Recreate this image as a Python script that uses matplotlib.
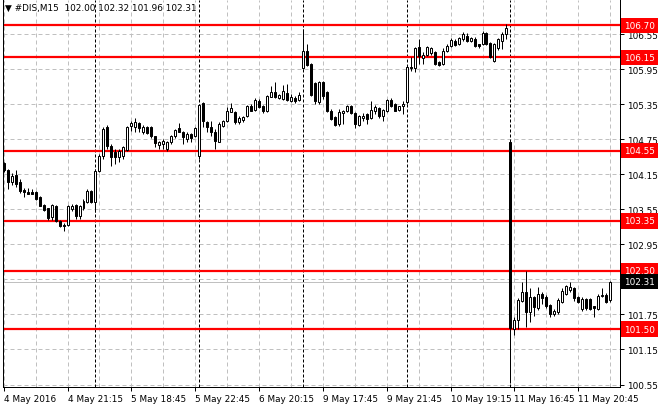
import matplotlib
matplotlib.use("Agg")
import matplotlib.pyplot as plt
import matplotlib.transforms as mtransforms
from datetime import datetime, timedelta

symbol = "#DIS,M15"
days = ["2016-05-04", "2016-05-05", "2016-05-06", "2016-05-09", "2016-05-10", "2016-05-11"]
session = ("16:30", "22:45")   # M15 bars of the trading day (server time)
first_bar = "2016-05-04 17:15"  # first bar visible on the chart

opens = [104.34, 104.22, 104.02, 104.14, 104.02, 103.88, 103.85, 103.84, 103.85, 103.76,
         103.62, 103.57, 103.42, 103.61, 103.35, 103.28, 103.28, 103.56, 103.62, 103.44,
         103.57, 103.67, 103.86, 103.67, 104.20, 104.46, 104.96, 104.63, 104.53, 104.45,
         104.46, 104.57, 104.98, 104.96, 105.03, 104.87, 104.96, 104.96, 104.80, 104.65,
         104.67, 104.58, 104.70, 104.80, 104.94, 104.87, 104.75, 104.84, 104.80, 104.46,
         105.37, 105.04, 104.96, 104.87, 104.70, 104.98, 105.06, 105.22, 105.22, 105.04,
         105.08, 105.15, 105.32, 105.25, 105.40, 105.32, 105.23, 105.47, 105.56, 105.45,
         105.44, 105.54, 105.40, 105.45, 105.42, 105.97, 106.26, 106.04, 105.71, 105.39,
         105.73, 105.56, 105.23, 105.13, 105.01, 105.20, 105.23, 105.32, 105.20, 104.99,
         105.12, 105.18, 105.11, 105.23, 105.28, 105.15, 105.23, 105.42, 105.35, 105.25,
         105.32, 105.39, 105.99, 105.97, 106.33, 106.14, 106.19, 106.23, 106.24, 106.07,
         106.04, 106.26, 106.35, 106.43, 106.38, 106.47, 106.52, 106.43, 106.47, 106.38,
         106.38, 106.57, 106.40, 106.09, 106.31, 106.43, 106.55, 104.70, 101.50, 101.65,
         101.98, 102.13, 101.79, 102.05, 101.86, 102.10, 102.05, 101.91, 101.76, 101.79,
         101.96, 102.10, 102.17, 102.20, 102.05, 101.84, 102.01, 102.01, 101.89, 101.84,
         102.06, 102.08, 102.00]
highs = [104.36, 104.24, 104.17, 104.22, 104.07, 103.91, 103.91, 103.90, 103.86, 103.78,
         103.64, 103.58, 103.64, 103.62, 103.37, 103.31, 103.62, 103.64, 103.64, 103.62,
         103.73, 103.90, 103.88, 104.24, 104.50, 104.96, 104.99, 104.67, 104.58, 104.58,
         104.63, 104.97, 105.06, 105.11, 105.04, 104.99, 104.98, 104.98, 104.80, 104.72,
         104.75, 104.72, 104.82, 104.92, 105.03, 104.89, 104.87, 104.86, 104.96, 105.35,
         105.39, 105.06, 105.06, 104.92, 105.04, 105.08, 105.30, 105.37, 105.23, 105.15,
         105.15, 105.33, 105.35, 105.46, 105.44, 105.33, 105.51, 105.66, 105.73, 105.52,
         105.68, 105.70, 105.52, 105.49, 105.56, 106.64, 106.38, 106.06, 105.73, 105.75,
         105.75, 105.58, 105.27, 105.15, 105.27, 105.25, 105.34, 105.34, 105.22, 105.17,
         105.20, 105.20, 105.40, 105.34, 105.30, 105.27, 105.44, 105.46, 105.37, 105.32,
         105.40, 106.00, 106.16, 106.33, 106.47, 106.24, 106.35, 106.33, 106.26, 106.09,
         106.31, 106.38, 106.48, 106.47, 106.50, 106.59, 106.57, 106.50, 106.50, 106.38,
         106.60, 106.59, 106.41, 106.40, 106.48, 106.59, 106.72, 104.72, 101.71, 102.03,
         102.30, 102.49, 102.20, 102.07, 102.22, 102.13, 102.08, 101.93, 101.84, 102.03,
         102.20, 102.25, 102.30, 102.22, 102.07, 102.05, 102.03, 102.03, 101.90, 102.10,
         102.20, 102.12, 102.32]
lows = [104.19, 103.90, 103.97, 103.93, 103.83, 103.76, 103.81, 103.81, 103.71, 103.60,
        103.52, 103.37, 103.37, 103.33, 103.25, 103.18, 103.26, 103.52, 103.38, 103.38,
        103.54, 103.66, 103.66, 103.50, 104.19, 104.41, 104.58, 104.29, 104.33, 104.36,
        104.41, 104.55, 104.89, 104.87, 104.87, 104.84, 104.84, 104.77, 104.62, 104.58,
        104.58, 104.55, 104.67, 104.77, 104.87, 104.67, 104.70, 104.70, 104.79, 104.41,
        104.96, 104.87, 104.80, 104.58, 104.70, 104.96, 105.04, 105.22, 105.01, 105.01,
        105.04, 105.13, 105.23, 105.23, 105.28, 105.20, 105.22, 105.47, 105.45, 105.44,
        105.42, 105.40, 105.39, 105.37, 105.40, 105.95, 106.00, 105.49, 105.35, 105.35,
        105.44, 105.22, 105.08, 104.98, 104.98, 105.01, 105.22, 105.18, 104.94, 104.98,
        105.06, 105.01, 105.10, 105.18, 105.11, 105.06, 105.22, 105.30, 105.23, 105.23,
        105.18, 105.35, 105.92, 105.90, 106.04, 106.04, 106.17, 106.19, 106.02, 106.00,
        106.02, 106.24, 106.33, 106.35, 106.36, 106.43, 106.41, 106.41, 106.33, 106.31,
        106.36, 106.36, 106.14, 106.07, 106.28, 106.29, 106.47, 100.58, 101.40, 101.50,
        101.96, 101.53, 101.62, 101.72, 101.83, 101.93, 101.86, 101.71, 101.72, 101.76,
        101.95, 102.08, 102.13, 101.98, 101.95, 101.81, 101.83, 101.83, 101.71, 101.83,
        102.05, 101.95, 101.96]
closes = [104.22, 104.02, 104.12, 103.98, 103.86, 103.85, 103.82, 103.82, 103.73, 103.61,
          103.54, 103.40, 103.62, 103.35, 103.26, 103.26, 103.61, 103.60, 103.44, 103.61,
          103.69, 103.86, 103.67, 104.20, 104.46, 104.92, 104.63, 104.45, 104.45, 104.55,
          104.62, 104.96, 105.03, 105.04, 104.94, 104.96, 104.86, 104.80, 104.68, 104.70,
          104.72, 104.70, 104.80, 104.91, 104.87, 104.79, 104.84, 104.77, 104.94, 105.33,
          105.06, 104.96, 104.87, 104.72, 105.01, 105.06, 105.23, 105.28, 105.04, 105.11,
          105.13, 105.32, 105.23, 105.42, 105.30, 105.23, 105.49, 105.56, 105.47, 105.51,
          105.58, 105.42, 105.47, 105.40, 105.51, 106.26, 106.02, 105.51, 105.40, 105.73,
          105.49, 105.23, 105.10, 104.99, 105.22, 105.23, 105.32, 105.20, 105.01, 105.15,
          105.15, 105.10, 105.25, 105.30, 105.15, 105.25, 105.42, 105.32, 105.23, 105.32,
          105.35, 105.99, 105.97, 106.31, 106.17, 106.19, 106.33, 106.31, 106.04, 106.02,
          106.26, 106.35, 106.45, 106.36, 106.48, 106.55, 106.43, 106.48, 106.35, 106.35,
          106.57, 106.38, 106.16, 106.38, 106.47, 106.55, 106.65, 101.52, 101.65, 102.00,
          102.13, 101.79, 102.05, 101.88, 102.10, 102.03, 101.89, 101.76, 101.81, 102.00,
          102.15, 102.24, 102.22, 102.03, 101.96, 102.01, 101.86, 101.84, 101.86, 102.06,
          102.08, 101.96, 102.31]

levels = [106.70, 106.15, 104.55, 103.35, 102.50, 101.50]  # red horizontal lines
bid = 102.31
price_ticks = [100.55, 101.15, 101.75, 102.35, 102.95, 103.55, 104.15, 104.75, 105.35, 105.95, 106.55]

# bar times -> used for the time scale and the day separators
times = []
start = datetime.strptime(first_bar, "%Y-%m-%d %H:%M")
for d in days:
    t = datetime.strptime(d + " " + session[0], "%Y-%m-%d %H:%M")
    end = datetime.strptime(d + " " + session[1], "%Y-%m-%d %H:%M")
    while t <= end:
        if t >= start:
            times.append(t)
        t += timedelta(minutes=15)

n = len(closes)
x = list(range(n))
FS = 6.4
PX = 0.72  # one pixel in points

fig = plt.figure(figsize=(6.6, 4.1), dpi=100)
ax = fig.add_axes([3 / 660, 22 / 410, 617 / 660, 387 / 410])
ax.set_xlim(-0.175, 154.46)
ax.set_ylim(100.508, 107.133)

# grid
for p in price_ticks:
    ax.axhline(p, color="#c0c0c0", lw=PX, ls=(0, (4, 3)), zorder=0)
for i in range(0, n, 8):
    ax.axvline(i, color="#c0c0c0", lw=PX, ls=(0, (4, 3)), zorder=0)

# day separators
for i in range(1, n):
    if times[i].date() != times[i - 1].date():
        ax.axvline(i, color="black", lw=PX, ls=(0, (3, 2)), zorder=1)

# levels and bid line
ax.axhline(bid, color="#c0c0c0", lw=PX, zorder=1)
for lv in levels:
    ax.axhline(lv, color="red", lw=1.6, zorder=2)

# candles
ax.vlines(x, lows, highs, color="black", lw=PX, zorder=3)
bottoms = [min(o, c) for o, c in zip(opens, closes)]
heights = [abs(c - o) for o, c in zip(opens, closes)]
faces = ["white" if c >= o else "black" for o, c in zip(opens, closes)]
ax.bar(x, heights, bottom=bottoms, width=0.5, color=faces, edgecolor="black",
       linewidth=PX, zorder=4)

ax.spines["top"].set_visible(False)
for s in ["left", "right", "bottom"]:
    ax.spines[s].set_linewidth(PX)

# price scale (the label under the bid box is not shown)
ax.yaxis.tick_right()
ax.set_yticks(price_ticks)
ax.set_yticklabels(["" if abs(p - bid) < 0.1 else "%.2f" % p for p in price_ticks])
ax.tick_params(axis="y", labelsize=FS, length=3, width=PX, pad=2)

# time scale
xt = list(range(0, n, 16))
xl = []
for i in xt:
    t = times[i]
    if i == 0:
        xl.append("%d %s %d" % (t.day, t.strftime("%b"), t.year))
    else:
        xl.append("%d %s %s" % (t.day, t.strftime("%b"), t.strftime("%H:%M")))
ax.set_xticks(xt)
ax.set_xticklabels(xl)
ax.tick_params(axis="x", labelsize=FS, length=3, width=PX, pad=2)
for lbl in ax.get_xticklabels():
    lbl.set_ha("left")

# price labels on the scale
trans = mtransforms.blended_transform_factory(ax.transAxes, ax.transData)
for lv in levels:
    ax.annotate("%.2f" % lv, xy=(1, lv), xycoords=trans, xytext=(3, 0),
                textcoords="offset points", va="center", ha="left", fontsize=FS,
                color="white", annotation_clip=False, zorder=6,
                bbox=dict(boxstyle="square,pad=0.35", fc="red", ec="none"))
ax.annotate("%.2f" % bid, xy=(1, bid), xycoords=trans, xytext=(3, 0),
            textcoords="offset points", va="center", ha="left", fontsize=FS,
            color="white", annotation_clip=False, zorder=6,
            bbox=dict(boxstyle="square,pad=0.35", fc="black", ec="none"))

# header
fig.text(5 / 660, 1 - 8 / 410, "\u25bc %s  %.2f %.2f %.2f %.2f" % (symbol, opens[-1], highs[-1], lows[-1], closes[-1]),
         fontsize=FS, va="center", ha="left")

fig.savefig("out.png", dpi=100, facecolor="white")
